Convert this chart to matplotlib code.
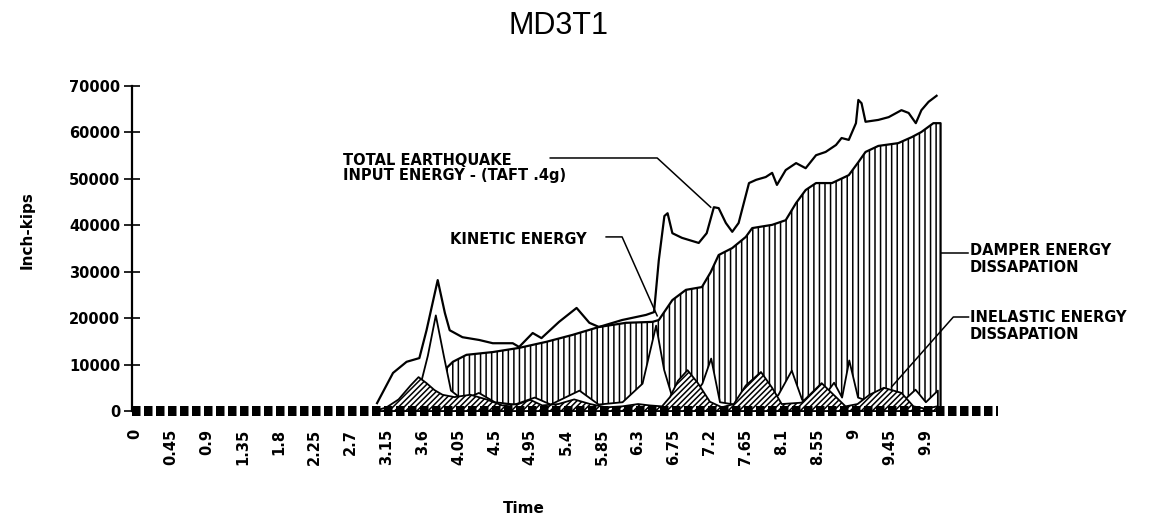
import numpy as np
import matplotlib
matplotlib.use('Agg')
import matplotlib.pyplot as plt

# time labels on the category axis
TIME_LABELS = ['0', '0.45', '0.9', '1.35', '1.8', '2.25', '2.7', '3.15', '3.6',
               '4.05', '4.5', '4.95', '5.4', '5.85', '6.3', '6.75', '7.2',
               '7.65', '8.1', '8.55', '9', '9.45', '9.9']
Y_TICKS = [0, 10000, 20000, 30000, 40000, 50000, 60000, 70000]

# total earthquake input energy
total_t = [3.03, 3.23, 3.40, 3.56, 3.65, 3.79, 3.88, 3.94, 4.10, 4.31, 4.48,
           4.73, 4.81, 4.98, 5.09, 5.31, 5.53, 5.69, 5.81, 6.10, 6.40, 6.50,
           6.56, 6.63, 6.67, 6.73, 6.85, 7.06, 7.16, 7.25, 7.31, 7.40, 7.48,
           7.56, 7.69, 7.78, 7.90, 7.98, 8.04, 8.15, 8.28, 8.40, 8.53, 8.65,
           8.78, 8.85, 8.94, 9.03, 9.06, 9.10, 9.15, 9.31, 9.44, 9.60, 9.69,
           9.78, 9.85, 9.94, 10.04]
total_e = [1700, 8200, 10600, 11400, 17400, 28200, 21100, 17400, 15900, 15300,
           14600, 14600, 13800, 16800, 15700, 19200, 22200, 19000, 18100, 19600,
           20700, 21300, 32500, 42000, 42600, 38300, 37300, 36200, 38300, 43900,
           43700, 40500, 38600, 40500, 49100, 49800, 50400, 51300, 48700, 51900,
           53400, 52300, 55100, 55800, 57300, 58800, 58400, 62000, 67000, 66300,
           62300, 62700, 63300, 64800, 64200, 62000, 64800, 66600, 67900]

# damper energy dissipation
damper_t = [3.62, 3.66, 3.73, 3.85, 3.98, 4.15, 4.48, 4.81, 5.15, 5.48, 5.81,
            6.15, 6.48, 6.56, 6.73, 6.90, 7.10, 7.21, 7.31, 7.48, 7.65, 7.73,
            7.98, 8.15, 8.28, 8.40, 8.53, 8.73, 8.94, 9.06, 9.15, 9.31, 9.56,
            9.73, 9.85, 10.00, 10.09]
damper_e = [0, 2400, 5200, 8400, 10600, 12100, 12700, 13600, 14900, 16400,
            18100, 19000, 19200, 19600, 23900, 26100, 26700, 29900, 33600, 35100,
            37500, 39400, 40100, 41100, 44800, 47600, 49100, 49100, 50800, 53600,
            55800, 57100, 57700, 59000, 60100, 62000, 62000]

# kinetic energy
kinetic_t = [3.05, 3.30, 3.55, 3.66, 3.76, 3.86, 3.95, 4.10, 4.30, 4.50, 4.75,
             5.00, 5.20, 5.56, 5.80, 6.10, 6.35, 6.52, 6.62, 6.75, 6.95, 7.10,
             7.21, 7.32, 7.50, 7.75, 8.05, 8.22, 8.35, 8.55, 8.75, 8.85, 8.94,
             9.05, 9.30, 9.60, 9.77, 9.90, 10.05]
kinetic_e = [0, 2000, 4500, 12000, 20700, 12000, 4500, 2500, 4000, 2000, 1500,
             3000, 1500, 4500, 1500, 2000, 6000, 18500, 9000, 1500, 2500, 6000,
             11400, 2000, 1500, 2000, 3500, 8800, 2500, 1500, 6200, 3000, 11000,
             3000, 1500, 2000, 4700, 2000, 4500]

# inelastic energy dissipation
inel_t = [3.00, 3.15, 3.30, 3.45, 3.55, 3.65, 3.75, 3.85, 4.00, 4.20, 4.40,
          4.60, 4.80, 4.95, 5.10, 5.30, 5.50, 5.70, 5.90, 6.10, 6.30, 6.45,
          6.60, 6.70, 6.80, 6.92, 7.05, 7.20, 7.35, 7.50, 7.65, 7.84, 7.98,
          8.10, 8.35, 8.60, 8.75, 8.90, 9.05, 9.20, 9.38, 9.60, 9.75, 9.90,
          10.05]
inel_e = [0, 800, 2500, 5500, 7300, 6000, 4500, 3500, 3000, 3500, 2500, 1200,
          1500, 2400, 1200, 1500, 2500, 1500, 800, 1000, 1500, 1200, 1000, 3000,
          6500, 8800, 6000, 2000, 800, 1500, 5500, 8400, 5000, 1500, 1800, 6000,
          3500, 1000, 1500, 3500, 5000, 3900, 1000, 500, 1000]

BOLD = dict(family='DejaVu Sans', weight='bold')

plt.rcParams['hatch.linewidth'] = 1.1

fig = plt.figure(figsize=(11.57, 5.17), dpi=100)
ax = fig.add_axes([0.1141, 0.2050, 0.7485, 0.6286])

# damper energy: vertical line hatching
ax.fill_between(damper_t, 0, damper_e, facecolor='white', edgecolor='black',
                hatch='|||', linewidth=1.6, zorder=2)
# kinetic energy: white area drawn over the damper hatching
ax.fill_between(kinetic_t, 0, kinetic_e, facecolor='white', edgecolor='black',
                linewidth=1.3, zorder=3)
# inelastic energy: dense diagonal hatch
ax.fill_between(inel_t, 0, inel_e, facecolor='white', edgecolor='black',
                hatch='//////', linewidth=1.3, zorder=4)
# total input energy
ax.plot(total_t, total_e, color='black', linewidth=1.6, zorder=5)

xmin, xmax = -0.04, 10.81
ax.set_xlim(xmin, xmax)
ax.set_ylim(0, 70000)

# the chunky square tick marks along the zero line
ax.plot([xmin, xmax], [0, 0], color='black', linewidth=7.2,
        dashes=(0.85, 0.35), solid_capstyle='butt', clip_on=False, zorder=6)

for s in ['top', 'right', 'bottom']:
  ax.spines[s].set_visible(False)
ax.spines['left'].set_linewidth(1.6)

ax.set_yticks(Y_TICKS)
ax.set_yticklabels([str(v) for v in Y_TICKS], fontsize=10.5, **BOLD)
ax.tick_params(axis='y', direction='inout', length=11, width=1.2, pad=3)

ax.set_xticks([float(l) for l in TIME_LABELS])
ax.set_xticklabels(TIME_LABELS, rotation=90, fontsize=10.5, **BOLD)
ax.tick_params(axis='x', length=0, pad=13)

# annotations
ax.text(2.6, 55600, 'TOTAL EARTHQUAKE\nINPUT ENERGY - (TAFT .4g)',
        ha='left', va='top', fontsize=10.5, linespacing=1.05, **BOLD)
ax.plot([5.2, 6.54, 7.21], [54500, 54500, 43900], color='black', lw=1.1, zorder=7)

ax.text(3.94, 37000, 'KINETIC ENERGY', ha='left', va='center',
        fontsize=10.5, **BOLD)
ax.plot([5.9, 6.1, 6.54], [37500, 37500, 20500], color='black', lw=1.1, zorder=7)

ax.text(10.46, 36200, 'DAMPER ENERGY\nDISSAPATION', ha='left', va='top',
        fontsize=10.5, linespacing=1.2, clip_on=False, **BOLD)
ax.plot([10.1, 10.44], [34000, 34000], color='black', lw=1.1, clip_on=False, zorder=7)

ax.text(10.46, 21800, 'INELASTIC ENERGY\nDISSAPATION', ha='left', va='top',
        fontsize=10.5, linespacing=1.2, clip_on=False, **BOLD)
ax.plot([10.44, 10.25, 9.475], [20250, 20250, 5170], color='black', lw=1.1,
        clip_on=False, zorder=7)

fig.text(0.483, 0.949, 'MD3T1', ha='center', va='center', fontsize=22,
         family='Liberation Sans')
fig.text(0.453, 0.017, 'Time', ha='center', va='center', fontsize=11, **BOLD)
fig.text(0.0233, 0.555, 'Inch-kips', ha='center', va='center', rotation=90,
         fontsize=11, **BOLD)

fig.savefig('out.png', dpi=100)
